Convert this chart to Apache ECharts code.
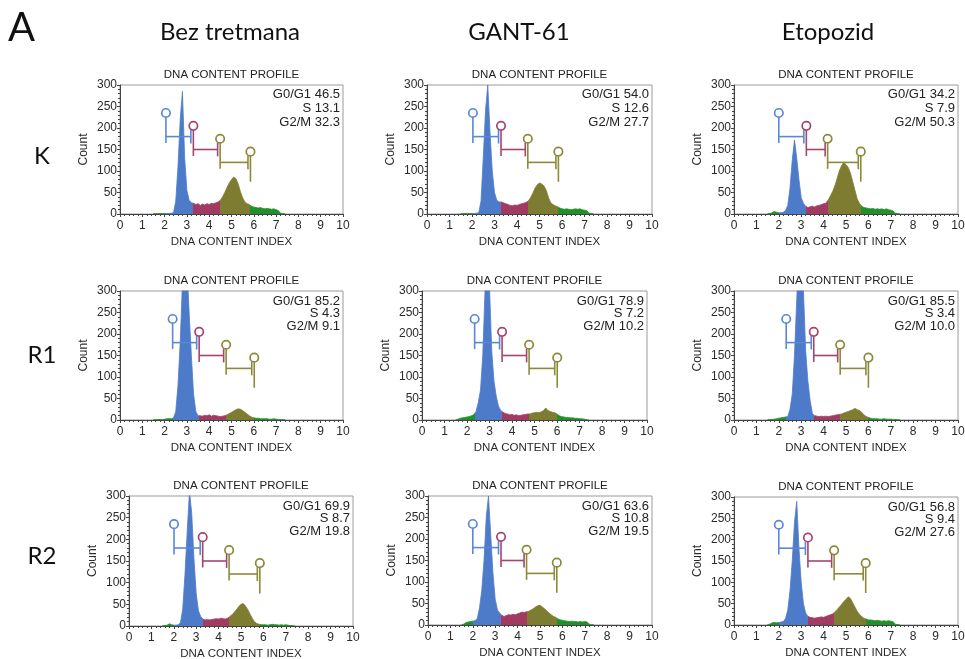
<!DOCTYPE html>
<html><head><meta charset="utf-8">
<script src="https://cdn.jsdelivr.net/npm/echarts@6/dist/echarts.min.js"></script>
<style>html,body{margin:0;padding:0;background:#fff}#c{width:965px;height:659px}</style>
</head><body><div id="c"></div><script>
// ---- data ----
const columnTitles = ['Bez tretmana', 'GANT-61', 'Etopozid'];
const rowLabels = ['K', 'R1', 'R2'];
const panelLetter = 'A';
const xTicks = [0,1,2,3,4,5,6,7,8,9,10];
const yTicks = [0,50,100,150,200,250,300];
const binCenters = [1.5,1.6,1.7,1.8,1.9,2.0,2.1,2.2,2.3,2.4,2.5,2.6,2.7,2.8,2.9,3.0,3.1,3.2,3.3,3.4,3.5,3.6,3.7,3.8,3.9,4.0,4.1,4.2,4.3,4.4,4.5,4.6,4.7,4.8,4.9,5.0,5.1,5.2,5.3,5.4,5.5,5.6,5.7,5.8,5.9,6.0,6.1,6.2,6.3,6.4,6.5,6.6,6.7,6.8,6.9,7.0,7.1,7.2,7.3,7.4];

const countsKBez = [1,1,1,1,1,1,1,1,2,3, 30,110,220,285,130,55,32,26,25,22, 24,20,23,21,24,22,25,24,26,28, 32,40,50,62,72,80,86,82,70,52, 38,28,24,22,18,16,15,14,15,13, 12,13,12,11,12,10,8,2,1,1];
const countsKGant = [1,1,1,1,1,1,1,2,3,30, 130,240,300,190,100,50,32,28,28,26, 24,22,20,19,21,20,22,24,25,27, 30,38,48,60,68,72,70,65,55,38, 26,22,19,17,14,12,11,12,11,10, 11,12,11,12,10,9,8,2,1,1];
const countsKEto = [1,1,3,6,4,3,3,4,8,20, 60,125,172,130,80,38,25,18,15,17, 18,16,19,20,22,24,25,32,42,52, 65,82,100,112,120,115,108,95,75,55, 35,25,18,15,14,13,12,13,11,12, 11,12,10,12,10,9,7,2,1,1];
const countsR1Bez = [1,1,1,1,1,2,3,3,3,5, 20,80,180,320,420,360,250,150,60,20, 10,10,9,11,10,12,9,11,10,9, 8,9,10,12,15,18,21,24,26,25, 22,18,14,10,7,5,4,4,3,3, 3,3,2,2,3,2,1,1,1,1];
const countsR1Gant = [1,2,4,5,6,7,8,10,12,20, 40,70,150,300,380,310,160,90,55,32, 22,18,15,14,12,13,11,12,10,11, 12,13,14,14,16,17,18,17,19,22, 28,22,20,18,17,14,10,8,7,6, 6,5,5,4,4,3,3,2,1,1];
const countsR1Eto = [1,1,1,2,3,4,5,6,7,8, 25,60,150,280,380,400,300,160,90,45, 15,10,9,8,9,8,9,8,9,10, 11,12,13,14,16,18,20,22,24,27, 24,22,18,12,8,6,4,3,3,3, 2,2,3,2,2,2,1,1,1,1];
const countsR2Bez = [1,1,2,5,3,2,2,3,8,40, 120,220,310,260,155,75,35,22,16,14, 15,14,15,16,17,16,18,17,16,18, 22,26,32,38,45,50,52,46,38,28, 18,10,6,4,3,3,3,2,3,4, 3,3,2,3,2,3,2,1,1,1];
const countsR2Gant = [1,2,6,7,8,9,10,15,40,80, 150,250,300,210,120,60,35,28,22,20, 22,24,23,25,24,26,28,30,29,31, 32,35,38,42,45,46,42,38,33,28, 24,20,18,14,12,11,10,9,8,9, 8,8,7,8,7,8,7,2,1,1];
const countsR2Eto = [1,2,5,6,5,6,7,8,15,35, 80,150,240,290,180,100,50,28,20,18, 17,16,17,18,19,18,20,22,24,26, 30,36,42,48,55,60,66,62,52,42, 32,25,20,16,14,12,12,11,10,11, 10,9,10,9,10,9,8,2,1,1];

// gate marker positions (DNA content index)
const gatesKBez = [2.06, 3.29, 4.49, 5.85];
const gatesKGant = [2.04, 3.29, 4.48, 5.84];
const gatesKEto = [2.0, 3.23, 4.18, 5.66];
const gatesR1Bez = [2.36, 3.55, 4.76, 6.02];
const gatesR1Gant = [2.34, 3.56, 4.76, 6.01];
const gatesR1Eto = [2.33, 3.56, 4.74, 6.0];
const gatesR2Bez = [2.01, 3.29, 4.47, 5.84];
const gatesR2Gant = [2.0, 3.26, 4.4, 5.75];
const gatesR2Eto = [2.0, 3.3, 4.47, 5.88];
const gateCircleCount = [235, 205, 175, 145];
const gateStemBottomCount = [165, 135, 105, 75];
const gateBarCount = [180, 150, 120];

// phase percentages [G0/G1, S, G2/M]
const statsKBez = [46.5, 13.1, 32.3];
const statsKGant = [54.0, 12.6, 27.7];
const statsKEto = [34.2, 7.9, 50.3];
const statsR1Bez = [85.2, 4.3, 9.1];
const statsR1Gant = [78.9, 7.2, 10.2];
const statsR1Eto = [85.5, 3.4, 10.0];
const statsR2Bez = [69.9, 8.7, 19.8];
const statsR2Gant = [63.6, 10.8, 19.5];
const statsR2Eto = [56.8, 9.4, 27.6];
const statNames = ['G0/G1', 'S', 'G2/M'];

// ---- layout & style ----
const panels = [
  {counts: countsKBez, gates: gatesKBez, stats: statsKBez},
  {counts: countsKGant, gates: gatesKGant, stats: statsKGant},
  {counts: countsKEto, gates: gatesKEto, stats: statsKEto},
  {counts: countsR1Bez, gates: gatesR1Bez, stats: statsR1Bez},
  {counts: countsR1Gant, gates: gatesR1Gant, stats: statsR1Gant},
  {counts: countsR1Eto, gates: gatesR1Eto, stats: statsR1Eto},
  {counts: countsR2Bez, gates: gatesR2Bez, stats: statsR2Bez},
  {counts: countsR2Gant, gates: gatesR2Gant, stats: statsR2Gant},
  {counts: countsR2Eto, gates: gatesR2Eto, stats: statsR2Eto}
];
const rects = [
  {left:120, top:85, width:223, height:129},
  {left:427, top:85, width:225, height:129},
  {left:734, top:85, width:224, height:129},
  {left:120, top:291, width:223, height:129},
  {left:422, top:291, width:225, height:129},
  {left:734, top:291, width:224, height:129},
  {left:129, top:496, width:224, height:130},
  {left:428, top:496, width:224, height:129},
  {left:734, top:497, width:224, height:128}
];
const statOffsets = [[9, 23, 37], [10, 22.5, 35], [10, 22.5, 35]];
const colTitleX = [230, 519, 828];
const rowLabelY = [156, 355, 556];

const FILL = {blue:'#4d7bc9', red:'#a23b62', olive:'#7e7c30', green:'#22902a'};
const GATE = ['#5a87d8', '#a5456f', '#8b8a3a', '#8b8a3a'];
const FONT = 'Liberation Sans, Arial, sans-serif';
const HFONT = 'Lato, Open Sans, sans-serif';
const AX = '#444';

const chart = echarts.init(document.getElementById('c'), null, {renderer:'canvas'});
const grids = [], xAxes = [], yAxes = [], series = [], visualMaps = [], graphics = [];

function gateRender(params, api) {
  const k = api.value(2);
  const x = api.value(0), xn = api.value(1);
  const col = GATE[k];
  const r = 4.2;
  const top = api.coord([x, gateCircleCount[k]]);
  const bot = api.coord([x, gateStemBottomCount[k]]);
  const ch = [
    {type:'line', shape:{x1:top[0], y1:top[1]+r, x2:bot[0], y2:bot[1]}, style:{stroke:col, lineWidth:1.6}},
    {type:'circle', shape:{cx:top[0], cy:top[1], r:r}, style:{stroke:col, fill:'none', lineWidth:1.7}}
  ];
  if (k < 3) {
    const a = api.coord([x, gateBarCount[k]]);
    const b = api.coord([xn, gateBarCount[k]]);
    const t1 = api.coord([xn, gateBarCount[k] + 16]);
    const t2 = api.coord([xn, gateBarCount[k] - 16]);
    ch.push({type:'line', shape:{x1:a[0], y1:a[1], x2:b[0]-2.5, y2:b[1]}, style:{stroke:col, lineWidth:1.6}});
    ch.push({type:'line', shape:{x1:t1[0]-2.5, y1:t1[1], x2:t2[0]-2.5, y2:t2[1]}, style:{stroke:col, lineWidth:1.6}});
  }
  return {type:'group', children:ch};
}

panels.forEach((p, i) => {
  const R = rects[i];
  const row = Math.floor(i / 3);
  grids.push({left:R.left, top:R.top, width:R.width, height:R.height, show:true,
    borderColor:'#9a9a9a', borderWidth:1, backgroundColor:'transparent',
    containLabel:false, outerBoundsMode:'none'});
  xAxes.push({gridIndex:i, type:'value', min:xTicks[0], max:xTicks[xTicks.length-1], interval:1,
    axisLine:{show:true, onZero:false, lineStyle:{color:AX, width:1}},
    axisTick:{show:true, length:3, lineStyle:{color:AX}},
    minorTick:{show:true, splitNumber:5, length:2, lineStyle:{color:AX}},
    splitLine:{show:false}, minorSplitLine:{show:false},
    axisLabel:{margin:6, fontSize:12, color:'#2a2a2a', fontFamily:FONT, hideOverlap:false, showMinLabel:true, showMaxLabel:true},
    name:'DNA CONTENT INDEX', nameLocation:'middle', nameGap:22, nameMoveOverlap:false,
    nameTextStyle:{fontSize:11.5, color:'#2a2a2a', fontFamily:FONT}});
  yAxes.push({gridIndex:i, type:'value', min:yTicks[0], max:yTicks[yTicks.length-1], interval:50,
    axisLine:{show:true, onZero:false, lineStyle:{color:AX, width:1}},
    axisTick:{show:true, length:3, lineStyle:{color:AX}},
    minorTick:{show:true, splitNumber:5, length:2, lineStyle:{color:AX}},
    splitLine:{show:false}, minorSplitLine:{show:false},
    axisLabel:{margin:3, fontSize:12, color:'#2a2a2a', fontFamily:FONT, hideOverlap:false, showMinLabel:true, showMaxLabel:true},
    name:'Count', nameLocation:'middle', nameGap:30, nameRotate:90, nameMoveOverlap:false,
    nameTextStyle:{fontSize:12, color:'#2a2a2a', fontFamily:FONT}});
  series.push({type:'line', xAxisIndex:i, yAxisIndex:i, silent:true, clip:true,
    data: binCenters.map((x, j) => [x, p.counts[j]]),
    showSymbol:false, symbol:'none', lineStyle:{width:0.8}, areaStyle:{opacity:1}, z:2});
  const g = p.gates;
  visualMaps.push({type:'piecewise', show:false, dimension:0, seriesIndex:series.length-1,
    pieces:[
      {lt:g[0], color:FILL.green},
      {gte:g[0], lt:g[1], color:FILL.blue},
      {gte:g[1], lt:g[2], color:FILL.red},
      {gte:g[2], lt:g[3], color:FILL.olive},
      {gte:g[3], color:FILL.green}
    ]});
  series.push({type:'custom', xAxisIndex:i, yAxisIndex:i, silent:true, clip:false, z:5,
    data: g.map((x, k) => [x, k < 3 ? g[k+1] : x, k]),
    encode:{x:0, y:2}, renderItem:gateRender});
  // panel title
  graphics.push({type:'text', x:R.left + R.width/2, y:R.top - 10,
    style:{text:'DNA CONTENT PROFILE', font:'11.5px ' + FONT, fill:'#222',
      align:'center', verticalAlign:'middle', textAlign:'center', textVerticalAlign:'middle'}});
  // stats
  p.stats.forEach((v, k) => {
    graphics.push({type:'text', x:R.left + R.width - 3, y:R.top + statOffsets[row][k],
      style:{text:statNames[k] + ' ' + v.toFixed(1), font:'13px ' + FONT, fill:'#222',
        align:'right', verticalAlign:'middle', textAlign:'right', textVerticalAlign:'middle'}});
  });
});

graphics.push({type:'text', x:8, y:28, style:{text:panelLetter, font:'40px ' + HFONT, fill:'#111',
  align:'left', verticalAlign:'middle', textAlign:'left', textVerticalAlign:'middle'}});
columnTitles.forEach((t, c) => graphics.push({type:'text', x:colTitleX[c], y:32,
  style:{text:t, font:'24px ' + HFONT, fill:'#111', align:'center', verticalAlign:'middle', textAlign:'center', textVerticalAlign:'middle'}}));
rowLabels.forEach((t, r) => graphics.push({type:'text', x:42, y:rowLabelY[r],
  style:{text:t, font:'24px ' + HFONT, fill:'#111', align:'center', verticalAlign:'middle', textAlign:'center', textVerticalAlign:'middle'}}));

chart.setOption({
  animation:false,
  backgroundColor:'#fff',
  grid:grids, xAxis:xAxes, yAxis:yAxes,
  visualMap:visualMaps,
  series:series,
  graphic:{elements:graphics}
});
</script></body></html>
